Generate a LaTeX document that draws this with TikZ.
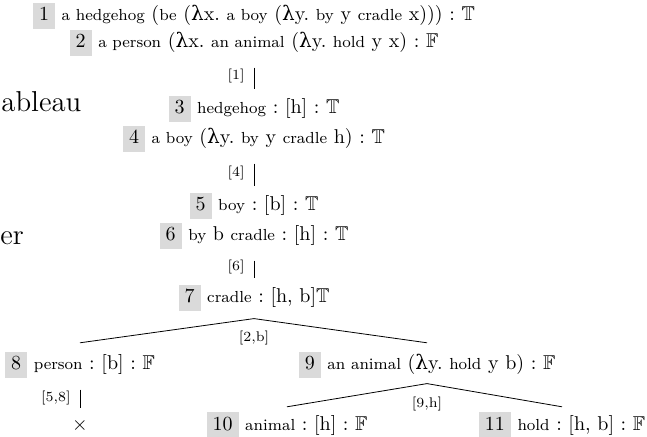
\documentclass[tikz,border=0pt]{standalone}
\usepackage{amssymb}
\usepackage{fontspec}
\newfontfamily\lamfont{DejaVu Serif}
\usepackage{tikz}
\usetikzlibrary{positioning}
\definecolor{boxgray}{RGB}{218,218,218}
\newcommand{\lam}{{\lamfont λ}}
\newcommand{\cst}[1]{{\footnotesize #1}}
\newcommand{\rowno}[1]{{\setlength{\fboxsep}{0.5pt}\colorbox{boxgray}{\strut\hspace{2.5pt}#1\hspace{2.5pt}}}}
\frenchspacing

\begin{document}
\begin{tikzpicture}[
    x=0.5pt, y=-0.5pt,
    every node/.style={inner sep=0pt},
    row/.style={anchor=base},
    ref/.style={font=\scriptsize},
    rule/.style={shorten <=5.5pt, shorten >=3.5pt},
]
  \useasboundingbox (0,0) rectangle (647,437);

  % Cut-off titles at the left margin
  \node[anchor=base west, font=\Large] (ttl) at (1,112) {ableau};
  \node[anchor=base west, font=\Large] (sub) at (0,245) {er};

  % Trunk
  \node[row] (n1) at (254,21) {\rowno{1} \cst{a hedgehog} (\cst{be} (\lam x. \cst{a boy} (\lam y. \cst{by} y \cst{cradle} x))) : $\mathbb{T}$};
  \node[row] (n2) at (254,48) {\rowno{2} \cst{a person} (\lam x. \cst{an animal} (\lam y. \cst{hold} y x) : $\mathbb{F}$};
  \node[row] (n3) at (254,114) {\rowno{3} \cst{hedgehog} : [h] : $\mathbb{T}$};
  \node[row] (n4) at (254,144) {\rowno{4} \cst{a boy} (\lam y. \cst{by} y \cst{cradle} h) : $\mathbb{T}$};
  \node[row] (n5) at (254,211) {\rowno{5} \cst{boy} : [b] : $\mathbb{T}$};
  \node[row] (n6) at (254,241) {\rowno{6} \cst{by} b \cst{cradle} : [h] : $\mathbb{T}$};
  \node[row] (n7) at (254,303) {\rowno{7} \cst{cradle} : [h, b]$\mathbb{T}$};

  \draw[rule] (n2.south) -- (n3.north) node[ref, midway, left=4.5pt] {[1]};
  \draw[rule] (n4.south) -- (n5.north) node[ref, midway, left=4.5pt] {[4]};
  \draw[rule] (n6.south) -- (n7.north) node[ref, midway, left=4.5pt] {[6]};

  % First split
  \node[row] (n8) at (80,370) {\rowno{8} \cst{person} : [b] : $\mathbb{F}$};
  \node[row] (n9) at (427,370) {\rowno{9} \cst{an animal} (\lam y. \cst{hold} y b) : $\mathbb{F}$};
  \coordinate (fork7) at ([yshift=-3.5pt]n7.south);
  \draw ([yshift=4.5pt]n8.north) -- (fork7) -- ([yshift=4.5pt]n9.north);
  \node[ref, below=6pt] (l2b) at (fork7) {[2,b]};

  % Closed branch
  \node[row] (cl8) at (80,430) {$\times$};
  \draw[rule, shorten >=5pt] (n8.south) -- (cl8.north) node[ref, midway, left=4.5pt] {[5,8]};

  % Second split
  \node[row] (n10) at (287,430) {\rowno{10} \cst{animal} : [h] : $\mathbb{F}$};
  \node[row] (n11) at (562,430) {\rowno{11} \cst{hold} : [h, b] : $\mathbb{F}$};
  \coordinate (fork9) at ([yshift=-2.5pt]n9.south);
  \draw ([yshift=2.5pt]n10.north) -- (fork9) -- ([yshift=2.5pt]n11.north);
  \node[ref, below=6.5pt] (l9h) at (fork9) {[9,h]};
\end{tikzpicture}
\end{document}
